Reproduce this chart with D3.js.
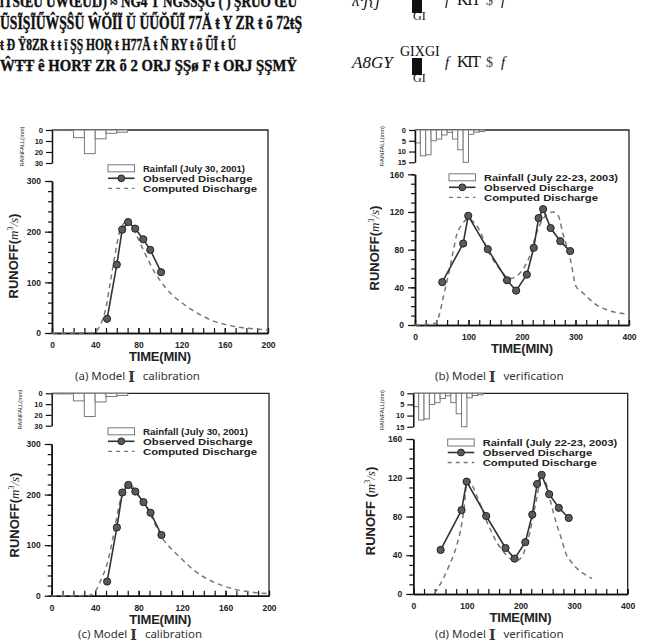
<!DOCTYPE html>
<html><head><meta charset="utf-8">
<script src="https://cdn.jsdelivr.net/npm/d3@7"></script>
<style>body{margin:0;background:#fff}svg{display:block}</style>
</head><body><svg id="c" width="659" height="642"></svg>
<script>
// ---------------- data ----------------
const rainStart2001 = [0,10,20,30,40,50,60];            // bar start (min), 10-min bars
const rain2001      = [0.5,0.5,7,21.5,8,3,2];            // mm
const rainStart2003 = [0,10,20,30,40,50,60,70,80,90,100,110,120];
const rain2003      = [6,12,11.5,5,4.2,2.3,1.1,4.2,9.2,15,2,1,0.7];

const obsTime2001 = [51,60,65,70.5,77,84.5,91,101];
const obs2001     = [28,135,204,219,206,185,164,120];
const obsTime2003 = [51,90,99.5,136,172,189,209,222,231,239.5,253.5,271.5,290];
const obs2003     = [45.5,86.5,116,80.5,47.5,36.5,53.5,82,113.5,123,103,89,78.5];

const compTimeA = [0,20,38,42,46,50,54,58,62,66,69,72,76,80,85,90,95,100,110,120,130,140,150,160,170,180,190,200];
const compA     = [0,0,0.5,6,22,50,100,150,195,215,221,218,205,185,162,140,120,104,78,60,45,33,23,17,12.5,9.5,7.5,6];
const compTimeB = [0,20,39,45,53,65,72,78,87,100,110,115,125,134,143,152,162,171,180,190,199,208,215,224,233,246,258,264,268,277,290,301,314,327,340,355,370,385,400];
const compB     = [0,0.5,2,10,30,60,80,96,106,113,109,106,95,81,72,64,57,51,49.5,52,57,65,74,92,106,117,120,119,116,96,71,41,34,27,21,17,14,12.5,11];
const compTimeC = [0,20,34,38,42,46,50,54,58,62,66,70,74,78,82,86,90,95,100,110,120,130,140,150,160,170,180,190,200];
const compC     = [0,0,0.5,4,15,35,55,90,133,178,208,222,217,205,192,180,165,142,120,93,72,52,37,26,18,12,8,5.5,4];
const compTimeD = [40,48,56,65,75,82,90,95,99,103,108,118,128,137,146,155,165,174,182,188,196,204,211,218,224,230,234,238,241,245,249,255,261,268,274,280,286,295,305,318,333];
const compD     = [0.5,8,16,27,40,52,71,90,112,117,114,102,88,75,64,54,46,40,36,35,35,40,50,65,82,98,110,120,123,118,112,98,85,71,61,50,40,33,26.5,21,16];

const legendRain2001 = "Rainfall (July 30, 2001)";
const legendRain2003 = "Rainfall (July 22-23, 2003)";
const legendObs = "Observed Discharge";
const legendComp = "Computed Discharge";
const captions = ["(a) Model ", "(b) Model ", "(c) Model ", "(d) Model "];
const captionTail = ["calibration","verification","calibration","verification"];

const xTicksCal = [0,40,80,120,160,200];
const xTicksVer = [0,100,200,300,400];
const yTicksCal = [0,100,200,300];
const yTicksVer = [0,40,80,120,160];
const rainTicksCal = [0,10,20,30];
const rainTicksVer = [0,5,10,15];

// ---------------- drawing ----------------
const svg = d3.select("#c");
const SANS = "'Liberation Sans', Arial, sans-serif";
const SERIF = "'Liberation Serif', 'DejaVu Serif', serif";

function panel(p){
  const g = svg.append("g");
  const x = d3.scaleLinear().domain([0,p.xMax]).range([p.x0,p.x1]);
  const yR = d3.scaleLinear().domain([0,p.rainMax]).range([p.r0,p.r1]);
  const y = d3.scaleLinear().domain([0,p.yMax]).range([p.y0,p.y1]);

  // frame: top & right
  g.append("path").attr("d",`M${p.x0},${p.r0}H${p.x1}V${p.y0}`)
    .attr("fill","none").attr("stroke","#222").attr("stroke-width",1.3);

  // rain bars
  g.selectAll("rect.rain").data(p.rainStart).join("rect")
    .attr("x",d=>x(d)).attr("width",d=>x(d+10)-x(d))
    .attr("y",p.r0).attr("height",(d,i)=>yR(p.rain[i])-p.r0)
    .attr("fill","#fff").attr("stroke","#777").attr("stroke-width",1);

  // axes
  const tickStyle = sel=>{
    sel.selectAll("path.domain").attr("stroke","#111").attr("stroke-width",1.5);
    sel.selectAll("line").attr("stroke","#111").attr("stroke-width",1.2);
    sel.selectAll("text").attr("font-family",SANS).attr("font-weight","bold").attr("fill","#222");
  };
  // rain axis
  const ra = g.append("g").attr("transform",`translate(${p.x0},0)`)
    .call(d3.axisLeft(yR).tickValues(p.rainTicks).tickSize(6).tickSizeOuter(0).tickPadding(3));
  tickStyle(ra); ra.selectAll("text").attr("font-size",7.5);
  // runoff axis minor
  const minorY = d3.range(0,p.yMax+0.001,p.yMinor);
  g.append("g").attr("transform",`translate(${p.x0},0)`)
    .call(d3.axisLeft(y).tickValues(minorY).tickSize(4).tickFormat("").tickSizeOuter(0)).call(tickStyle);
  const ya = g.append("g").attr("transform",`translate(${p.x0},0)`)
    .call(d3.axisLeft(y).tickValues(p.yTicks).tickSize(7).tickSizeOuter(0).tickPadding(4));
  tickStyle(ya); ya.selectAll("text").attr("font-size",8.5);
  // x axis
  const minorX = d3.range(0,p.xMax+0.001,p.xMinor);
  g.append("g").attr("transform",`translate(0,${p.y0})`)
    .call(d3.axisBottom(x).tickValues(minorX).tickSizeInner(-5).tickSizeOuter(0).tickFormat("")).call(tickStyle);
  const xa = g.append("g").attr("transform",`translate(0,${p.y0})`)
    .call(d3.axisBottom(x).tickValues(p.xTicks).tickSizeInner(-5).tickSizeOuter(0).tickPadding(9));
  tickStyle(xa); xa.selectAll("text").attr("font-size",8.5);

  // computed (dashed)
  const line = d3.line().x(d=>x(d[0])).y(d=>y(d[1])).curve(d3.curveMonotoneX);
  g.append("path").datum(p.compT.map((t,i)=>[t,p.comp[i]]))
    .attr("d",line).attr("fill","none").attr("stroke","#777")
    .attr("stroke-width",1.5).attr("stroke-dasharray","5,4");
  // observed
  const obsLine = d3.line().x(d=>x(d[0])).y(d=>y(d[1]));
  const od = p.obsT.map((t,i)=>[t,p.obs[i]]);
  g.append("path").datum(od).attr("d",obsLine).attr("fill","none")
    .attr("stroke","#333").attr("stroke-width",1.6);
  g.selectAll("circle.obs").data(od).join("circle")
    .attr("cx",d=>x(d[0])).attr("cy",d=>y(d[1])).attr("r",3.6)
    .attr("fill","#5a5a5a").attr("stroke","#222").attr("stroke-width",1);

  // legend
  const L = p.leg;
  g.append("rect").attr("x",L.x).attr("y",L.y-3.5).attr("width",26.5).attr("height",7)
    .attr("fill","#fff").attr("stroke","#777");
  g.append("line").attr("x1",L.x).attr("x2",L.x+26.5).attr("y1",L.y+10).attr("y2",L.y+10)
    .attr("stroke","#333").attr("stroke-width",1.6);
  g.append("circle").attr("cx",L.x+13.3).attr("cy",L.y+10).attr("r",3.4)
    .attr("fill","#5a5a5a").attr("stroke","#222");
  g.append("line").attr("x1",L.x).attr("x2",L.x+26.5).attr("y1",L.y+20).attr("y2",L.y+20)
    .attr("stroke","#777").attr("stroke-width",1.3).attr("stroke-dasharray","4,4");
  const lt = [[p.legRain,L.wR,0],[legendObs,109.5,10],[legendComp,114,20]];
  lt.forEach(([t,w,dy],i)=>{
    g.append("text").attr("x",L.x+35).attr("y",L.y+dy+3.6).text(t)
      .attr("font-family",SANS).attr("font-weight","bold").attr("font-size",i==0?9.6:9.8)
      .attr("fill","#222").attr("textLength",w).attr("lengthAdjust","spacingAndGlyphs");
  });

  // axis titles
  g.append("text").attr("x",(p.x0+p.x1)/2).attr("y",p.y0+28).attr("text-anchor","middle")
    .attr("font-family",SANS).attr("font-weight","bold").attr("font-size",13).attr("fill","#222")
    .attr("textLength",62).text("TIME(MIN)");
  const yl = g.append("text").attr("transform",`translate(${p.ylx},${p.yly}) rotate(-90)`)
    .attr("text-anchor","middle").attr("font-family",SANS).attr("font-weight","bold")
    .attr("font-size",13).attr("fill","#222");
  yl.append("tspan").text(p.ylSpace?"RUNOFF (":"RUNOFF(");
  yl.append("tspan").attr("font-family",SERIF).attr("font-style","italic").attr("font-weight","normal").text("m");
  yl.append("tspan").attr("font-size",8).attr("dy",-5).attr("font-weight","normal").attr("font-family",SERIF).text("3");
  yl.append("tspan").attr("dy",5).attr("font-family",SERIF).attr("font-style","italic").attr("font-weight","normal").text("/s");
  yl.append("tspan").text(")");
  g.append("text").attr("transform",`translate(${p.rlx},${(p.r0+p.r1)/2}) rotate(-90)`)
    .attr("text-anchor","middle").attr("font-family",SANS).attr("font-size",6)
    .attr("fill","#222").attr("textLength",40).attr("lengthAdjust","spacingAndGlyphs").text("RAINFALL(mm)");

  // caption
  const c = g.append("text").attr("x",p.cx).attr("y",p.cy).attr("font-family","'Noto Sans', 'Open Sans', sans-serif")
    .attr("font-size",11.5).attr("fill","#333");
  c.append("tspan").text(captions[p.i]);
  c.append("tspan").attr("font-family",SERIF).attr("font-weight","bold").attr("font-size",14).attr("dy",2).text("Ⅰ");
  c.append("tspan").attr("dy",-2).attr("dx",8).text(captionTail[p.i]);
}

panel({i:0,x0:52,x1:268,xMax:200,xTicks:xTicksCal,xMinor:10,r0:130,r1:163,rainMax:30,rainTicks:rainTicksCal,
  y0:333,y1:181,yMax:300,yTicks:yTicksCal,yMinor:20,rainStart:rainStart2001,rain:rain2001,
  obsT:obsTime2001,obs:obs2001,compT:compTimeA,comp:compA,leg:{x:108,y:168.3,wR:102},legRain:legendRain2001,
  ylx:18,yly:256,rlx:24,cx:75,cy:380});
panel({i:1,x0:415,x1:629,xMax:400,xTicks:xTicksVer,xMinor:20,r0:130,r1:162.3,rainMax:15,rainTicks:rainTicksVer,
  y0:325,y1:174.3,yMax:160,yTicks:yTicksVer,yMinor:10,rainStart:rainStart2003,rain:rain2003,
  obsT:obsTime2003,obs:obs2003,compT:compTimeB,comp:compB,leg:{x:449,y:177.3,wR:134},legRain:legendRain2003,
  ylx:379,yly:248,rlx:384,cx:435,cy:380});
panel({i:2,x0:51.7,x1:269,xMax:200,xTicks:xTicksCal,xMinor:10,r0:393.3,r1:425.7,rainMax:30,rainTicks:rainTicksCal,
  y0:595.7,y1:444,yMax:300,yTicks:yTicksCal,yMinor:20,rainStart:rainStart2001,rain:rain2001,
  obsT:obsTime2001,obs:obs2001,compT:compTimeC,comp:compC,leg:{x:108,y:431.3,wR:105},legRain:legendRain2001,
  ylx:19,yly:515,rlx:22,cx:78,cy:638});
panel({i:3,x0:413.3,x1:627.7,xMax:400,xTicks:xTicksVer,xMinor:20,r0:393.3,r1:426.7,rainMax:15,rainTicks:rainTicksVer,
  y0:594,y1:439,yMax:160,yTicks:yTicksVer,yMinor:10,rainStart:rainStart2003,rain:rain2003,
  obsT:obsTime2003,obs:obs2003,compT:compTimeD,comp:compD,leg:{x:447.7,y:442.5,wR:134.6},legRain:legendRain2003,
  ylx:375,yly:511,rlx:384,cx:435,cy:638,ylSpace:true});

// ---------------- garbled header text (as in the scanned page) ----------------
const headLines = [
  {t:"ĭΤSŒŪ ŬŴŒŪĲ)  ≈  ŇĜ4  Ť  ŇĜŜŜŞĞ (  )  ŞŔŨŎ        ŒŨ", y:7, w:297, fs:16},
  {t:"ŨSĨŞĨŰŴŞŜŨ ŴŎĨĨ Ŭ ŬŰŎŨĨ 77Ă ŧ Y  ZR ŧ õ  72ŧŞ", y:29, w:302, fs:18},
  {t:"ŧ Đ Ÿ8ZR ŧ  ŧ ï ŞŞ HOŖ ŧ H77Ā ŧ Ñ RY  ŧ õ ŨĨ  ŧ Ú", y:50, w:236, fs:17},
  {t:"ŴŦŦ ê HORŦ  ZR õ 2  ORJ ŞŞø  F ŧ  ORJ ŞŞMŸ", y:71, w:297, fs:17}
];
headLines.forEach(l=>{
  svg.append("text").attr("x",0).attr("y",l.y).text(l.t)
    .attr("font-family",SERIF).attr("font-weight","bold").attr("font-size",l.fs)
    .attr("fill","#111").attr("stroke","#111").attr("stroke-width",0.4)
    .attr("textLength",l.w).attr("lengthAdjust","spacingAndGlyphs");
});
// formula fragments
const fx = svg.append("g").attr("fill","#111").attr("font-family",SERIF);
[[0,-62],[1,0]].forEach(([k,dy])=>{
  fx.append("text").attr("x",352).attr("y",68+dy).attr("font-style","italic").attr("font-size",17).text(k?"A8GY":"ʎ·ʃ{ʃ");
  fx.append("rect").attr("x",412).attr("y",58+dy).attr("width",10).attr("height",17);
  fx.append("path").attr("d",`M402,${72+dy}Q460,${69+dy}513,${70+dy}`).attr("stroke","#111").attr("stroke-width",1.2).attr("fill","none");
  fx.append("text").attr("x",400).attr("y",56+dy).attr("font-size",14).text(k?"GIXGI":"");
  fx.append("text").attr("x",413).attr("y",82+dy).attr("font-size",12).text("GI");
  fx.append("text").attr("x",445).attr("y",67+dy).attr("font-style","italic").attr("font-size",15).text("f");
  fx.append("text").attr("x",457).attr("y",67+dy).attr("font-size",16).attr("textLength",24).text("KTT");
  fx.append("text").attr("x",486).attr("y",67+dy).attr("font-size",14).attr("fill","#444").text("$");
  fx.append("text").attr("x",501).attr("y",67+dy).attr("font-style","italic").attr("font-size",15).text("f");
});
</script></body></html>
